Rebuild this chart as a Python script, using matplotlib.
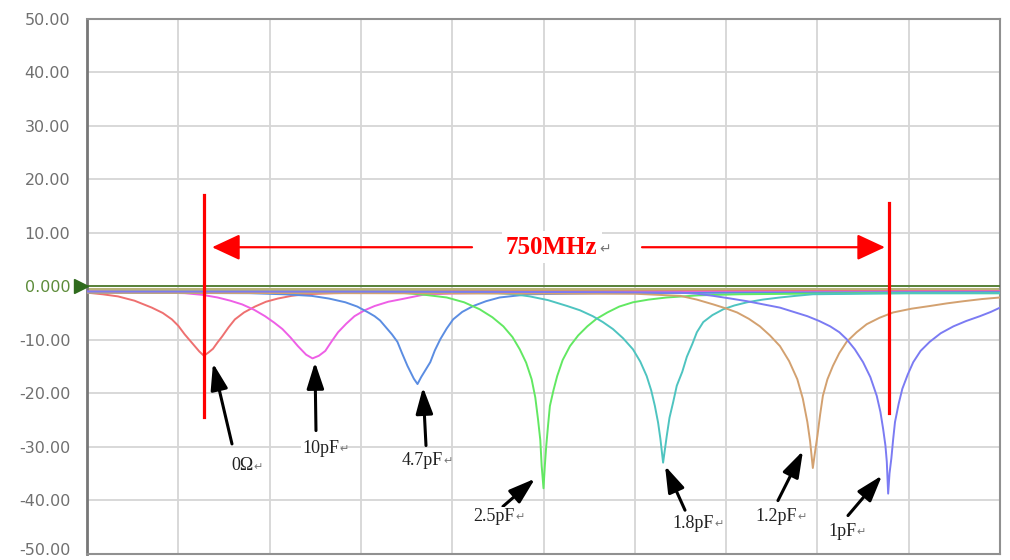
import matplotlib
matplotlib.use("Agg")
import matplotlib.pyplot as plt
import matplotlib.transforms as mtransforms

# ---- data: frequency (MHz) and insertion loss (dB) of each trace ----
f_0ohm = [0, 17, 34, 52, 71, 83, 93, 100, 107, 113, 118, 123, 128, 133, 138, 143, 148, 155, 162,
          172, 184, 196, 209, 224, 239, 270, 300, 400, 560, 780, 1000]
s_0ohm = [-1.2, -1.5, -1.9, -2.7, -4.0, -5.0, -6.2, -7.4, -9.0, -10.2, -11.2, -12.2, -13.0, -12.4,
          -11.7, -10.5, -9.4, -7.7, -6.2, -4.9, -3.8, -2.9, -2.3, -1.8, -1.5, -1.3, -1.2, -1.0,
          -1.0, -0.9, -0.9]

f_10pf = [0, 60, 107, 126, 143, 157, 170, 183, 195, 205, 214, 223, 231, 240, 247, 254, 261, 268,
          275, 284, 293, 304, 315, 330, 345, 368, 400, 452, 650, 1000]
s_10pf = [-1.0, -1.1, -1.3, -1.6, -2.1, -2.7, -3.4, -4.4, -5.6, -6.8, -8.0, -9.6, -11.2, -12.8,
          -13.5, -13.0, -12.1, -10.3, -8.6, -7.0, -5.6, -4.5, -3.7, -2.9, -2.4, -1.6, -1.35, -1.2,
          -1.1, -1.0]

f_4p7pf = [0, 178, 215, 246, 265, 283, 296, 308, 315, 321, 327, 334, 340, 345, 351, 358, 362, 366,
           371, 376, 381, 387, 394, 401, 411, 423, 437, 452, 468, 485, 560, 750, 1000]
s_4p7pf = [-1.2, -1.3, -1.5, -1.8, -2.3, -3.0, -3.8, -4.9, -5.6, -6.4, -7.6, -9.0, -10.4, -12.5,
           -14.9, -17.3, -18.3, -17.0, -15.6, -14.2, -12.0, -9.9, -7.9, -6.2, -4.8, -3.7, -2.8,
           -2.1, -1.8, -1.5, -1.3, -1.2, -1.1]

f_2p5pf = [0, 200, 343, 370, 394, 413, 430, 444, 456, 466, 474, 481, 487, 491, 494, 496.5, 498, 500,
           501.5, 503, 505, 507, 511, 515, 521, 529, 538, 548, 558, 570, 583, 598, 615, 635, 670,
           715, 850, 1000]
s_2p5pf = [-1.1, -1.2, -1.2, -1.6, -2.1, -3.0, -4.3, -5.8, -7.5, -9.5, -11.8, -14.3, -17.4, -20.8,
           -24.9, -28.8, -33.6, -37.8, -33.5, -29.9, -26.0, -22.4, -19.4, -16.8, -13.8, -11.2,
           -9.2, -7.5, -6.1, -4.9, -3.8, -3.0, -2.5, -2.1, -1.7, -1.5, -1.3, -1.3]

f_1p8pf = [0, 300, 450, 468, 485, 505, 526, 540, 554, 565, 576, 587, 598, 606, 613, 618, 622, 625.5,
           628, 631, 633, 635, 638, 642, 646, 652, 657, 663, 668, 675, 685, 697, 709, 723, 740, 759,
           776, 795, 900, 1000]
s_1p8pf = [-1.1, -1.2, -1.3, -1.5, -1.9, -2.6, -3.7, -4.5, -5.6, -6.7, -8.0, -9.7, -11.8, -14.1,
           -16.8, -19.5, -22.4, -25.5, -28.5, -33.0, -30.5, -28.0, -24.6, -21.7, -18.6, -16.0,
           -13.2, -10.8, -8.6, -6.7, -5.4, -4.3, -3.6, -3.0, -2.5, -2.1, -1.8, -1.5, -1.3, -1.3]

f_1p2pf = [0, 300, 600, 625, 650, 668, 686, 699, 712, 725, 737, 748, 759, 769, 778, 784, 789, 792,
           795, 797, 800, 803, 806, 811, 817, 824, 832, 843, 854, 868, 883, 903, 923, 942, 960,
           980, 1000]
s_1p2pf = [-1.2, -1.3, -1.4, -1.6, -1.8, -2.5, -3.4, -4.1, -4.9, -6.1, -7.5, -9.2, -11.2, -14.0,
           -17.4, -21.0, -25.4, -29.0, -34.0, -31.5, -28.0, -24.0, -20.5, -17.4, -14.9, -12.5,
           -10.4, -8.6, -7.1, -5.9, -4.9, -4.2, -3.7, -3.2, -2.8, -2.4, -2.1]

f_1pf = [0, 300, 560, 650, 668, 686, 705, 723, 741, 759, 774, 789, 802, 814, 824, 832, 841, 850, 858,
         865, 869, 872, 874.5, 876, 877.5, 879, 881, 883, 885, 889, 893, 899, 905, 913, 923, 935,
         949, 963, 978, 990, 1000]
s_1pf = [-1.0, -1.0, -1.1, -1.2, -1.4, -1.8, -2.3, -2.8, -3.4, -4.0, -4.8, -5.6, -6.5, -7.5, -8.6,
         -9.9, -11.8, -14.2, -17.0, -20.5, -23.5, -26.7, -29.8, -32.8, -38.8, -35.0, -32.2, -28.6,
         -25.4, -22.0, -19.2, -16.5, -14.2, -12.1, -10.4, -8.8, -7.5, -6.5, -5.6, -4.8, -4.0]

# through reference trace and 0 dB reference level
f_thru = [0, 1000]
s_thru = [-0.45, -0.45]
ref_level = 0.0

labels = ["0Ω", "10pF", "4.7pF", "2.5pF", "1.8pF", "1.2pF", "1pF"]
colors = ["#ee7070", "#ee5fe6", "#5b8de2", "#62e862", "#4ec4c0", "#d3a170", "#7b7bf3"]
freqs = [f_0ohm, f_10pf, f_4p7pf, f_2p5pf, f_1p8pf, f_1p2pf, f_1pf]
losses = [s_0ohm, s_10pf, s_4p7pf, s_2p5pf, s_1p8pf, s_1p2pf, s_1pf]

# callout arrows: (tail x, tail y) -> (tip x, tip y), and label anchor (left, centre)
arrow_tail = [(158.8, -29.5), (250.8, -27.0), (371.3, -29.8), (455.6, -41.2),
              (655.0, -41.9), (756.8, -40.1), (833.5, -42.9)]
arrow_tip = [(138.0, -14.4), (249.7, -14.2), (368.0, -18.9), (490.7, -36.0),
             (633.1, -33.6), (784.2, -30.8), (870.8, -35.4)]
label_pos = [(157.7, -33.6), (235.5, -30.4), (345.0, -32.6), (422.8, -43.1),
             (640.7, -44.4), (731.7, -43.1), (811.6, -45.9)]

# span markers (MHz)
marker_start = 128
marker_stop = 878

y_ticks = [50, 40, 30, 20, 10, 0, -10, -20, -30, -40, -50]

SERIF = ["Liberation Serif", "DejaVu Sans"]
RETURN_MARK = "↵"

# ---- figure ----
fig = plt.figure(figsize=(10.1, 5.6), dpi=100)
ax = fig.add_axes([87 / 1010, 6.5 / 560, 913 / 1010, 534.5 / 560])
ax.set_xlim(0, 1000)
ax.set_ylim(-50, 50)

ax.set_xticks(range(0, 1001, 100))
ax.set_xticklabels([])
ax.set_yticks(y_ticks)
ax.set_yticklabels([("0.000" if v == 0 else f"{v:.2f}") for v in y_ticks])
ax.tick_params(axis="both", length=0)
ax.tick_params(axis="y", pad=12, labelsize=11.5, labelcolor="#707070")
for lbl, v in zip(ax.get_yticklabels(), y_ticks):
    if v == 0:
        lbl.set_color("#5d8c3a")
    if v == -50:
        # nudge the lowest label up so it stays inside the canvas
        lbl.set_transform(lbl.get_transform() +
                          mtransforms.ScaledTranslation(0, 3 / 72, fig.dpi_scale_trans))

ax.grid(True, color="#d6d6d6", lw=1.3)
ax.set_axisbelow(True)
for side in ["top", "right", "bottom"]:
    ax.spines[side].set_color("#909090")
    ax.spines[side].set_linewidth(1.5)
ax.spines["left"].set_color("#777777")
ax.spines["left"].set_linewidth(2)

# traces
ax.plot(f_thru, s_thru, color="#b9b277", lw=2.2, zorder=2)
for f, s, c in zip(freqs, losses, colors):
    ax.plot(f, s, color=c, lw=1.4, zorder=3, solid_joinstyle="round")
ax.axhline(ref_level, color="#4d7a2c", lw=1.3, zorder=4)

# reference level marker on the left edge
trans = mtransforms.blended_transform_factory(ax.transAxes, ax.transData)
ax.plot([-0.0065], [ref_level], marker=">", color="#2f6b1d", markersize=10,
        transform=trans, clip_on=False, zorder=6)

# span markers
ax.plot([marker_start, marker_start], [17.1, -24.4], color="#ff0000", lw=2.3, zorder=5)
ax.plot([marker_stop, marker_stop], [15.6, -23.8], color="#ff0000", lw=2.3, zorder=5)
arrow_y = 7.3
red_head = dict(arrowstyle="-|>,head_length=0.86,head_width=0.4", color="#ff0000",
                lw=1.6, mutation_scale=20, shrinkA=0, shrinkB=0)
ax.annotate("", xy=(marker_start + 9, arrow_y), xytext=(421.7, arrow_y),
            arrowprops=red_head, zorder=5)
ax.annotate("", xy=(marker_stop - 4, arrow_y), xytext=(607.9, arrow_y),
            arrowprops=red_head, zorder=5)
span_txt = ax.text(509, arrow_y, f"{marker_stop - marker_start:d}MHz", color="#ff0000",
                   fontsize=18, fontweight="bold", family=SERIF,
                   ha="center", va="center", zorder=6,
                   bbox=dict(facecolor="white", edgecolor="none", pad=3))
ax.annotate(RETURN_MARK, xy=(1, 0.42), xycoords=span_txt, xytext=(1, 0),
            textcoords="offset points", ha="left", va="center", fontsize=10,
            color="#777777", family=["DejaVu Sans"], zorder=6)

# callouts
black_head = dict(arrowstyle="-|>,head_length=0.8,head_width=0.26", color="black",
                  lw=2.2, mutation_scale=20, shrinkA=0, shrinkB=0)
for lab, tail, tip, pos in zip(labels, arrow_tail, arrow_tip, label_pos):
    ax.annotate("", xy=tip, xytext=tail, arrowprops=black_head, zorder=7)
    t = ax.text(pos[0], pos[1], lab, fontsize=13, color="#222222",
                family=SERIF, ha="left", va="center",
                zorder=8, bbox=dict(facecolor="white", edgecolor="none", pad=0.5))
    ax.annotate(RETURN_MARK, xy=(1, 0.45), xycoords=t, xytext=(0.5, 0),
                textcoords="offset points", ha="left", va="center", fontsize=8,
                color="#777777", family=["DejaVu Sans"], zorder=8)

fig.savefig("out.png", dpi=100)
